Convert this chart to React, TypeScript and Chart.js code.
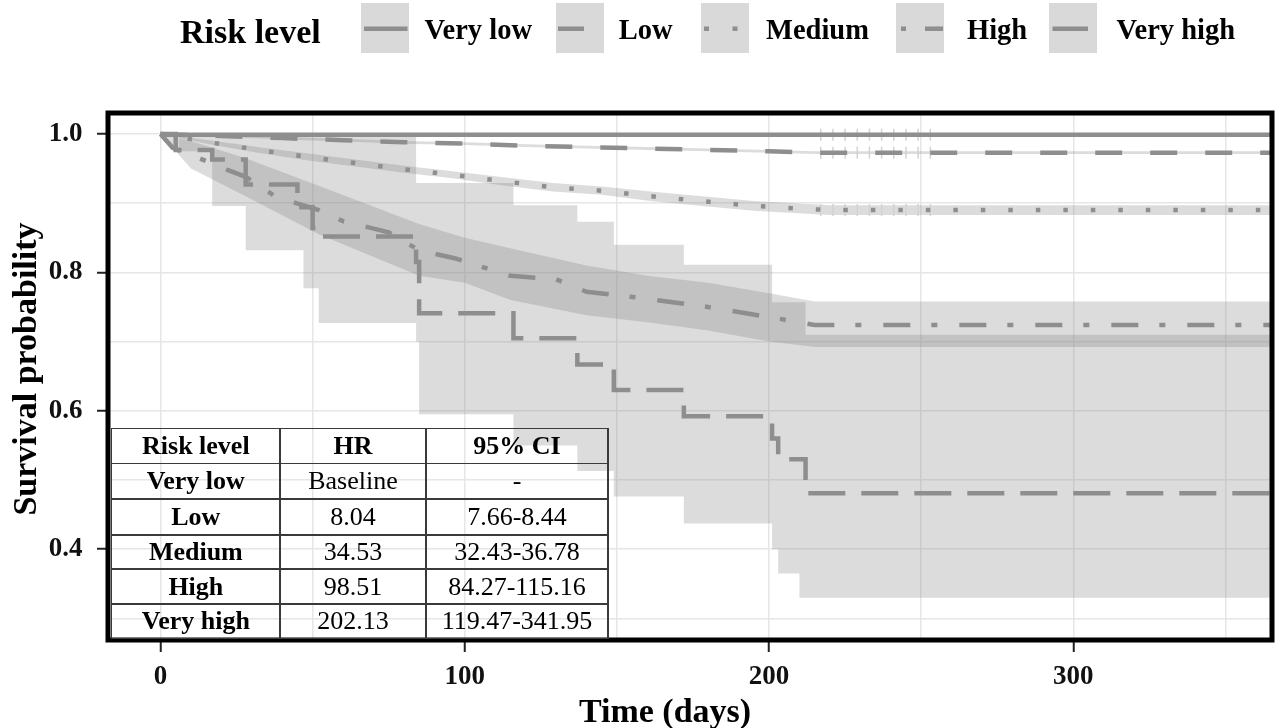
import React, { useEffect, useRef } from 'react';
import { Chart, registerables } from 'chart.js';

Chart.register(...registerables);

const FONT = "'Liberation Serif', 'Times New Roman', serif";
const LINE = '#8e8e8e';
const BAND = 'rgba(127,127,127,0.27)';
const GRID = '#e6e6e6';
const CENSOR = '#d2d2d2';

// ---- Kaplan–Meier curves (time in days, survival probability) ----
const veryLowDays = [0, 365];
const veryLowSurv = [0.999, 0.999];

const lowDays = [0, 20, 40, 60, 80, 100, 120, 140, 160, 180, 200, 215, 365];
const lowSurv = [1.0, 0.997, 0.994, 0.991, 0.988, 0.986, 0.983, 0.981, 0.979, 0.977, 0.975, 0.973, 0.973];
const lowUpper = [1.0, 0.998, 0.996, 0.993, 0.99, 0.988, 0.985, 0.983, 0.981, 0.979, 0.977, 0.975, 0.975];
const lowLower = [1.0, 0.996, 0.992, 0.989, 0.986, 0.984, 0.981, 0.979, 0.977, 0.975, 0.973, 0.971, 0.971];

const mediumDays = [0, 16, 32, 48, 64, 80, 96, 112, 129, 145, 161, 178, 195, 211, 220, 365];
const mediumSurv = [1.0, 0.988, 0.977, 0.967, 0.958, 0.949, 0.941, 0.932, 0.923, 0.918, 0.91, 0.903, 0.896, 0.892, 0.89, 0.89];
const mediumUpper = [1.0, 0.991, 0.981, 0.972, 0.963, 0.954, 0.946, 0.938, 0.929, 0.924, 0.917, 0.91, 0.903, 0.899, 0.897, 0.897];
const mediumLower = [1.0, 0.985, 0.973, 0.962, 0.953, 0.944, 0.936, 0.926, 0.917, 0.912, 0.903, 0.896, 0.889, 0.885, 0.883, 0.883];

const highDays = [0, 4, 10, 22, 28, 38, 52, 60, 75, 85, 97, 115, 130, 140, 158, 180, 202, 215, 365];
const highSurv = [1.0, 0.98, 0.97, 0.948, 0.938, 0.909, 0.89, 0.874, 0.858, 0.832, 0.82, 0.795, 0.79, 0.772, 0.763, 0.75, 0.734, 0.724, 0.724];
const highCIDays = [0, 10, 28, 52, 85, 100, 115, 140, 160, 180, 200, 215, 365];
const highUpper = [1.0, 0.99, 0.965, 0.925, 0.87, 0.85, 0.835, 0.81, 0.795, 0.785, 0.77, 0.758, 0.758];
const highLower = [1.0, 0.95, 0.91, 0.855, 0.795, 0.785, 0.76, 0.738, 0.728, 0.716, 0.7, 0.692, 0.692];

const veryHighDays = [0, 5, 17, 28, 45, 50, 53, 84, 85, 116, 137, 149, 172, 201, 203, 212, 365];
const veryHighSurv = [1.0, 0.977, 0.963, 0.927, 0.894, 0.864, 0.852, 0.815, 0.741, 0.705, 0.667, 0.63, 0.592, 0.56, 0.53, 0.481, 0.481];
const veryHighCIDays = [0, 6, 17, 28, 47, 52, 84, 85, 116, 137, 149, 172, 201, 203, 210, 212, 365];
const veryHighUpper = [1, 1, 1, 1, 1, 1, 0.929, 0.929, 0.897, 0.873, 0.84, 0.811, 0.757, 0.757, 0.757, 0.71, 0.71];
const veryHighLower = [1.0, 0.975, 0.896, 0.832, 0.777, 0.727, 0.7, 0.595, 0.55, 0.513, 0.476, 0.437, 0.4, 0.365, 0.33, 0.33, 0.33];

// censoring marks (days) on the three upper curves
const censorDays = [217, 221, 225, 229, 233, 237, 241, 245, 249, 253];
const censorVeryLow = [0.999, 0.999, 0.999, 0.999, 0.999, 0.999, 0.999, 0.999, 0.999, 0.999];
const censorLow = [0.973, 0.973, 0.973, 0.973, 0.973, 0.973, 0.973, 0.973, 0.973, 0.973];
const censorMedium = [0.89, 0.89, 0.89, 0.89, 0.89, 0.89, 0.89, 0.89, 0.89, 0.89];

// ---- axes ----
const xTicks = [0, 50, 100, 150, 200, 250, 300, 350];
const xLabelTicks = [0, 100, 200, 300];
const yTicks = [0.3, 0.4, 0.5, 0.6, 0.7, 0.8, 0.9, 1.0];
const yLabelTicks = [0.4, 0.6, 0.8, 1.0];

// ---- legend & table ----
const legendTitle = 'Risk level';
const legendLabels = ['Very low', 'Low', 'Medium', 'High', 'Very high'];
const tableHeader = ['Risk level', 'HR', '95% CI'];
const tableRisk = ['Very low', 'Low', 'Medium', 'High', 'Very high'];
const tableHR = ['Baseline', '8.04', '34.53', '98.51', '202.13'];
const tableCI = ['-', '7.66-8.44', '32.43-36.78', '84.27-115.16', '119.47-341.95'];

const pts = (days: number[], vals: number[]) => days.map((d, i) => ({ x: d, y: vals[i] }));
const near = (list: number[], v: number) => list.some((t) => Math.abs(t - v) < 1e-6);

const framePlugin = {
  id: 'frame',
  afterDatasetsDraw(chart: any) {
    const { ctx, chartArea: a } = chart;
    ctx.save();
    ctx.strokeStyle = '#000';
    ctx.lineWidth = 5;
    ctx.strokeRect(a.left, a.top, a.right - a.left, a.bottom - a.top);
    ctx.restore();
  },
};

const lineDs = (label: string, data: any[], dash: number[], stepped = false) => ({
  label,
  data,
  borderColor: LINE,
  borderWidth: 4.5,
  borderDash: dash,
  borderCapStyle: 'butt',
  fill: false,
  pointRadius: 0,
  stepped,
});

const bandDs = (label: string, data: any[], fill: any, stepped = false) => ({
  label,
  data,
  borderColor: 'rgba(0,0,0,0)',
  borderWidth: 0,
  backgroundColor: BAND,
  fill,
  pointRadius: 0,
  stepped,
});

const censorDs = (label: string, data: any[]) => ({
  label,
  data,
  showLine: false,
  fill: false,
  pointStyle: 'line',
  pointRotation: 90,
  pointRadius: 6,
  pointBorderWidth: 1.5,
  pointBorderColor: CENSOR,
  borderColor: CENSOR,
  backgroundColor: CENSOR,
});

function ChartCanvas() {
  const ref = useRef<HTMLCanvasElement | null>(null);
  useEffect(() => {
    if (!ref.current) return;
    const tickFont = { family: FONT, weight: 'bold' as const, size: 27 };
    const chart = new Chart(ref.current, {
      type: 'line',
      data: {
        datasets: [
          lineDs('Very low', pts(veryLowDays, veryLowSurv), []),
          lineDs('Low', pts(lowDays, lowSurv), [27, 28]),
          lineDs('Medium', pts(mediumDays, mediumSurv), [4.5, 23]),
          lineDs('High', pts(highDays, highSurv), [27, 21, 6, 22]),
          lineDs('Very high', pts(veryHighDays, veryHighSurv), [37, 16], true),
          censorDs('censor very low', pts(censorDays, censorVeryLow)),
          censorDs('censor low', pts(censorDays, censorLow)),
          censorDs('censor medium', pts(censorDays, censorMedium)),
          bandDs('VH upper', pts(veryHighCIDays, veryHighUpper), '+1', true),
          bandDs('VH lower', pts(veryHighCIDays, veryHighLower), false, true),
          bandDs('High upper', pts(highCIDays, highUpper), '+1'),
          bandDs('High lower', pts(highCIDays, highLower), false),
          bandDs('Medium upper', pts(mediumDays, mediumUpper), '+1'),
          bandDs('Medium lower', pts(mediumDays, mediumLower), false),
          bandDs('Low upper', pts(lowDays, lowUpper), '+1'),
          bandDs('Low lower', pts(lowDays, lowLower), false),
        ] as any,
      },
      options: {
        animation: false,
        responsive: false,
        events: [],
        layout: { autoPadding: false, padding: { top: 113, right: 5, left: 0, bottom: 0 } },
        plugins: {
          legend: { display: false },
          tooltip: { enabled: false },
          filler: { drawTime: 'beforeDatasetsDraw', propagate: false } as any,
        },
        scales: {
          x: {
            type: 'linear',
            min: -17.25,
            max: 365.3,
            afterBuildTicks: (s: any) => {
              s.ticks = xTicks.map((v) => ({ value: v }));
            },
            afterFit: (s: any) => {
              s.height = 88;
            },
            border: { display: false },
            grid: {
              color: GRID,
              lineWidth: 1.5,
              drawTicks: true,
              tickLength: 12,
              tickWidth: 2,
              tickColor: (c: any) => (c.tick && near(xLabelTicks, c.tick.value) ? '#222' : 'rgba(0,0,0,0)'),
            },
            ticks: {
              autoSkip: false,
              maxRotation: 0,
              padding: 9,
              color: '#111',
              font: tickFont,
              callback: (v: any) => (near(xLabelTicks, Number(v)) ? String(v) : ''),
            },
          },
          y: {
            type: 'linear',
            min: 0.2688,
            max: 1.0303,
            afterBuildTicks: (s: any) => {
              s.ticks = yTicks.map((v) => ({ value: v }));
            },
            afterFit: (s: any) => {
              s.width = 108;
            },
            border: { display: false },
            grid: {
              color: GRID,
              lineWidth: 1.5,
              drawTicks: true,
              tickLength: 11,
              tickWidth: 2,
              tickColor: (c: any) => (c.tick && near(yLabelTicks, c.tick.value) ? '#222' : 'rgba(0,0,0,0)'),
            },
            ticks: {
              autoSkip: false,
              padding: 14.5,
              color: '#111',
              font: tickFont,
              callback: (v: any) => (near(yLabelTicks, Number(v)) ? Number(v).toFixed(1) : ''),
            },
          },
        },
      } as any,
      plugins: [framePlugin],
    });
    return () => chart.destroy();
  }, []);
  return (
    <canvas
      ref={ref}
      width={1277}
      height={728}
      style={{ position: 'absolute', left: 0, top: 0, width: '1277px', height: '728px' }}
    />
  );
}

// legend key geometry (pixels in the key box)
const keyBoxLeft = [361, 556, 700.5, 896, 1049];
const keyLabelLeft = [424.6, 618.7, 766, 967, 1116.6];
const keySegments: number[][][] = [
  [[3, 46.5]],
  [[2, 28]],
  [[3, 8], [31.5, 36.5]],
  [[5, 10], [29, 47]],
  [[3.5, 39]],
];

function Legend() {
  return (
    <>
      <div
        style={{
          position: 'absolute', left: 180, top: 11.5, height: 40, lineHeight: '40px',
          fontFamily: FONT, fontWeight: 'bold', fontSize: 34, color: '#000', whiteSpace: 'nowrap',
        }}
      >
        {legendTitle}
      </div>
      {legendLabels.map((lab, i) => (
        <React.Fragment key={lab}>
          <div style={{ position: 'absolute', left: keyBoxLeft[i], top: 3.3, width: 48, height: 50, background: '#d9d9d9' }}>
            <svg width={48} height={50} style={{ position: 'absolute', left: 0, top: 0 }}>
              {keySegments[i].map((s, j) => (
                <line key={j} x1={s[0]} x2={s[1]} y1={25.7} y2={25.7} stroke={LINE} strokeWidth={4.5} />
              ))}
            </svg>
          </div>
          <div
            style={{
              position: 'absolute', left: keyLabelLeft[i], top: 9.9, height: 40, lineHeight: '40px',
              fontFamily: FONT, fontWeight: 'bold', fontSize: 28.5, color: '#000', whiteSpace: 'nowrap',
            }}
          >
            {lab}
          </div>
        </React.Fragment>
      ))}
    </>
  );
}

const colLeft = [111.7, 280, 426, 608];
const rowTop = [428.3, 463.3, 499, 535, 569, 604, 638.5];

function HRTable() {
  const rows = [tableHeader, ...tableRisk.map((r, i) => [r, tableHR[i], tableCI[i]])];
  const cells: any[] = [];
  rows.forEach((row, r) => {
    row.forEach((txt, c) => {
      const h = rowTop[r + 1] - rowTop[r];
      cells.push(
        <div
          key={`c${r}-${c}`}
          style={{
            position: 'absolute', left: colLeft[c], top: rowTop[r], width: colLeft[c + 1] - colLeft[c], height: h,
            lineHeight: `${h}px`, textAlign: 'center', fontFamily: FONT, fontSize: 26, color: '#000',
            fontWeight: r === 0 || c === 0 ? 'bold' : 'normal', whiteSpace: 'nowrap',
          }}
        >
          {txt}
        </div>
      );
    });
  });
  const lines: any[] = [];
  rowTop.forEach((y, i) =>
    lines.push(
      <div key={`h${i}`} style={{ position: 'absolute', left: colLeft[0] - 0.75, top: y - 0.75, width: colLeft[3] - colLeft[0] + 1.5, height: 1.5, background: '#3a3a3a' }} />
    )
  );
  colLeft.forEach((x, i) =>
    lines.push(
      <div key={`v${i}`} style={{ position: 'absolute', left: x - 0.75, top: rowTop[0] - 0.75, width: 1.5, height: rowTop[6] - rowTop[0] + 1.5, background: '#3a3a3a' }} />
    )
  );
  return (
    <>
      {lines}
      {cells}
    </>
  );
}

export default function App() {
  return (
    <div style={{ position: 'absolute', left: 0, top: 0, width: 1277, height: 728, overflow: 'hidden', background: '#fff' }}>
      <ChartCanvas />
      <Legend />
      <HRTable />
      <div
        style={{
          position: 'absolute', left: 5, top: 349, width: 40, height: 40, display: 'flex', alignItems: 'center', justifyContent: 'center',
        }}
      >
        <div
          style={{
            transform: 'rotate(-90deg)', fontFamily: FONT, fontWeight: 'bold', fontSize: 34, lineHeight: '40px',
            height: 40, whiteSpace: 'nowrap', color: '#000',
          }}
        >
          Survival probability
        </div>
      </div>
      <div
        style={{
          position: 'absolute', left: 465, width: 400, top: 691, height: 40, lineHeight: '40px', textAlign: 'center',
          fontFamily: FONT, fontWeight: 'bold', fontSize: 34, color: '#000', whiteSpace: 'nowrap',
        }}
      >
        Time (days)
      </div>
    </div>
  );
}
